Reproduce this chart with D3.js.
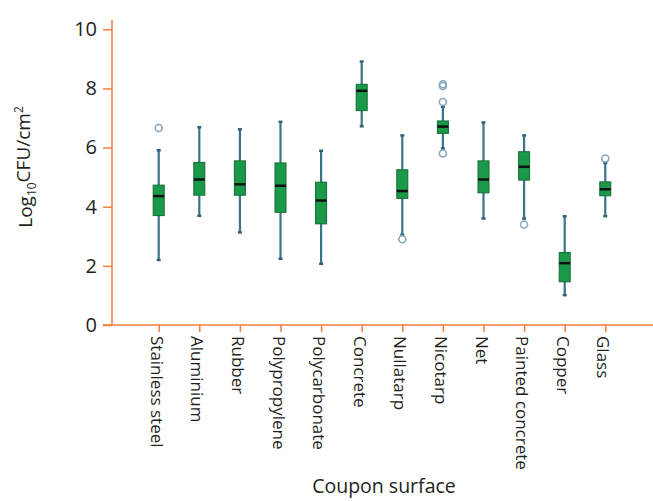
<!DOCTYPE html>
<html>
<head>
<meta charset="utf-8">
<script src="https://cdn.jsdelivr.net/npm/d3@7"></script>
<style>
  body { margin: 0; background: #fff; }
  svg { display: block; font-family: "Open Sans", sans-serif; }
</style>
</head>
<body>
<svg id="chart" width="653" height="501"></svg>
<script>
const categories = ["Stainless steel", "Aluminium", "Rubber", "Polypropylene", "Polycarbonate",
  "Concrete", "Nullatarp", "Nicotarp", "Net", "Painted concrete", "Copper", "Glass"];
const whiskerLow  = [2.20, 3.69, 3.13, 2.24, 2.07, 6.72, 3.05, 5.97, 3.60, 3.60, 1.01, 3.68];
const q1          = [3.70, 4.39, 4.39, 3.81, 3.42, 7.25, 4.28, 6.48, 4.47, 4.90, 1.46, 4.37];
const medians     = [4.36, 4.92, 4.76, 4.71, 4.21, 7.92, 4.53, 6.71, 4.92, 5.35, 2.09, 4.59];
const q3          = [4.73, 5.50, 5.55, 5.48, 4.83, 8.14, 5.25, 6.90, 5.55, 5.86, 2.45, 4.84];
const whiskerHigh = [5.91, 6.69, 6.62, 6.87, 5.89, 8.91, 6.41, 7.38, 6.85, 6.41, 3.68, 5.48];
const outliers    = [[6.66], [], [], [], [], [], [2.90], [8.14, 8.08, 7.54, 5.80], [], [3.40], [], [5.63]];
const yTicks = [0, 2, 4, 6, 8, 10];

const axisColor = "#f47d3b";
const textColor = "#231f20";

const svg = d3.select("#chart");
const y = d3.scaleLinear().domain([0, 10]).range([325, 29.3]);
const x = d3.scalePoint().domain(categories).range([158.7, 605.3]);

// Y axis
const gy = svg.append("g").attr("transform", "translate(112,0)")
  .call(d3.axisLeft(y).tickValues(yTicks).tickFormat(d3.format("d")).tickSize(9).tickPadding(6).tickSizeOuter(0));
gy.select(".domain").remove();
gy.selectAll(".tick line").attr("stroke", axisColor).attr("stroke-width", 1.5);
gy.selectAll(".tick text").attr("fill", textColor).style("font-size", "20px").style("font-family", "'Open Sans', sans-serif");

// X axis
const gx = svg.append("g").attr("transform", "translate(0,325)")
  .call(d3.axisBottom(x).tickSize(7).tickSizeOuter(0));
gx.select(".domain").remove();
gx.selectAll(".tick line").attr("stroke", axisColor).attr("stroke-width", 1.5);
gx.selectAll(".tick text").remove();

// axis lines
svg.append("line").attr("x1", 112).attr("x2", 112).attr("y1", 20).attr("y2", 325)
  .attr("stroke", axisColor).attr("stroke-width", 1.5);
svg.append("line").attr("x1", 103).attr("x2", 653).attr("y1", 325).attr("y2", 325)
  .attr("stroke", axisColor).attr("stroke-width", 1.5);

// X labels rotated
svg.append("g").selectAll("text").data(categories).join("text")
  .attr("transform", d => `translate(${x(d)},336) rotate(90)`)
  .attr("y", 8)
  .attr("text-anchor", "start")
  .attr("fill", textColor)
  .style("font-size", "17px")
  .text(d => d);

// Boxes
const bw = 11;
const data = categories.map((c, i) => ({
  c, lo: whiskerLow[i], q1: q1[i], med: medians[i], q3: q3[i], hi: whiskerHigh[i], out: outliers[i]
}));
const g = svg.append("g");
const bx = g.selectAll("g.box").data(data).join("g").attr("class", "box")
  .attr("transform", d => `translate(${x(d.c)},0)`);

bx.append("line").attr("x1", 0).attr("x2", 0)
  .attr("y1", d => y(d.hi)).attr("y2", d => y(d.lo))
  .attr("stroke", "#3b7389").attr("stroke-width", 2.2);
bx.append("line").attr("x1", -2).attr("x2", 2)
  .attr("y1", d => y(d.hi)).attr("y2", d => y(d.hi))
  .attr("stroke", "#2f6376").attr("stroke-width", 2.5);
bx.append("line").attr("x1", -2).attr("x2", 2)
  .attr("y1", d => y(d.lo)).attr("y2", d => y(d.lo))
  .attr("stroke", "#2f6376").attr("stroke-width", 2.5);
bx.append("rect").attr("x", -bw / 2).attr("width", bw)
  .attr("y", d => y(d.q3)).attr("height", d => y(d.q1) - y(d.q3))
  .attr("fill", "#1a9a48").attr("stroke", "#126b34").attr("stroke-width", 1);
bx.append("line").attr("x1", -bw / 2).attr("x2", bw / 2)
  .attr("y1", d => y(d.med)).attr("y2", d => y(d.med))
  .attr("stroke", "#111").attr("stroke-width", 2.5);
bx.selectAll("circle").data(d => d.out).join("circle")
  .attr("cx", 0).attr("cy", v => y(v)).attr("r", 3.5)
  .attr("fill", "none").attr("stroke", "#86a9bb").attr("stroke-width", 1.6);

// Axis titles
svg.append("text").attr("x", 384).attr("y", 493).attr("text-anchor", "middle")
  .attr("fill", textColor).style("font-size", "19.5px").text("Coupon surface");

const yt = svg.append("text").attr("transform", "translate(32,167) rotate(-90)")
  .attr("text-anchor", "middle").attr("fill", textColor).style("font-size", "19px");
yt.append("tspan").text("Log");
yt.append("tspan").attr("dy", "0.3em").style("font-size", "12px").text("10");
yt.append("tspan").attr("dy", "-0.3em").text("CFU/cm");
yt.append("tspan").attr("dy", "-0.55em").style("font-size", "12px").text("2");
</script>
</body>
</html>
